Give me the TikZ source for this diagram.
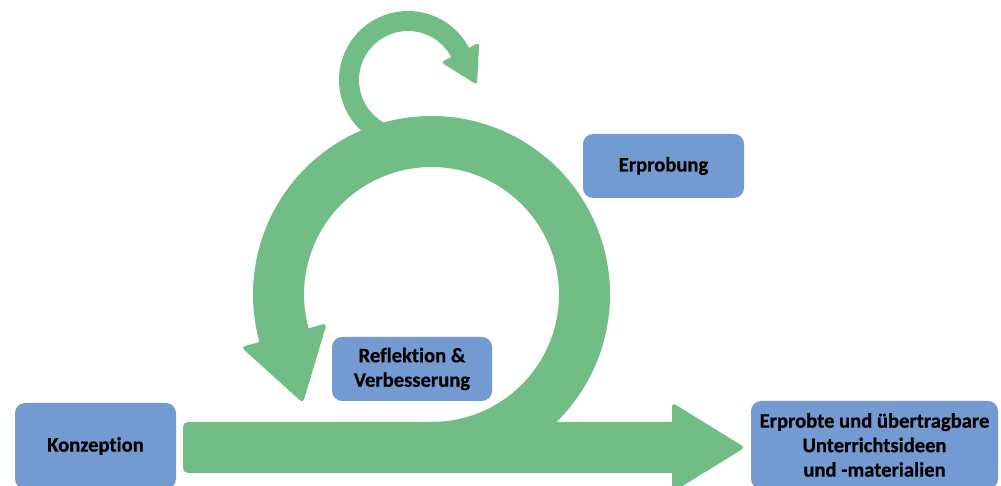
\documentclass[tikz,border=0pt]{standalone}
\usepackage{fontspec}
\setmainfont{Carlito}[RawFeature={-liga;-clig}, BoldFeatures={FakeBold=0.6}]
\usetikzlibrary{calc}
\definecolor{gr}{RGB}{113,189,133}
\definecolor{bl}{RGB}{115,155,210}
\begin{document}
\begin{tikzpicture}[x=1pt,y=1pt,
  box/.style={fill=bl, rounded corners=10pt, text=black, font=\bfseries\fontsize{20.6}{24.5}\selectfont, align=center, inner sep=0pt},
  bigband/.style={draw=gr, line width=51pt},
  smallband/.style={draw=gr, line width=20pt},
]
\useasboundingbox (0,0) rectangle (1001,486);
\coordinate (C) at (431.5,191.5);
\coordinate (L) at (408,406);
% horizontal bar with arrowhead
\fill[gr] (674,64) [rounded corners=5pt] -- (183,64) -- (183,13) [sharp corners] -- (674,13) -- cycle;
\fill[gr, rounded corners=4pt] (672,83.5) -- (745,38.5) -- (672,-6.5) -- cycle;
% big circle
\draw[bigband] ($(C)+(-90:153)$) arc[start angle=-90, end angle=195.6, radius=153];
\begin{scope}[shift={(C)}, rotate=195.6]
  \fill[gr, rounded corners=4pt] (197.5,-0.5) -- (153,70) -- (108.5,-0.5) -- cycle;
\end{scope}
% small loop
\draw[smallband] ($(L)+(245:59)$) arc[start angle=245, end angle=27.4, radius=59];
\begin{scope}[shift={(L)}, rotate=27.4]
  \fill[gr, rounded corners=3pt] (80.5,0.5) -- (59,-36) -- (37.5,0.5) -- cycle;
\end{scope}
% boxes
\node[box, minimum width=161pt, minimum height=64pt] (erp) at (663.5,320) {Erprobung};
\node[box, minimum width=160pt, minimum height=64pt] (ref) at (412,117) {Reflektion \&\\Verbesserung};
\node[box, minimum width=161pt, minimum height=86pt] (kon) at (95.5,40) {Konzeption};
\node[box, minimum width=247pt, minimum height=88pt] (res) at (874.5,41) {Erprobte und übertragbare\\Unterrichtsideen\\und -materialien};
\end{tikzpicture}
\end{document}
